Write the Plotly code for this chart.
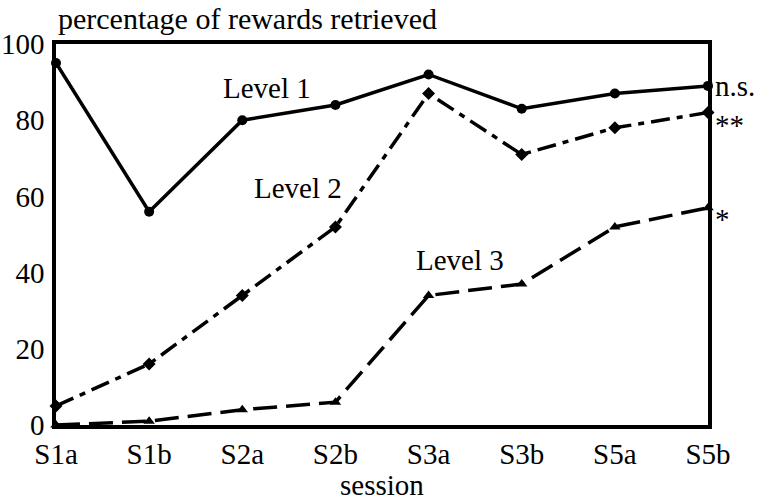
import plotly.graph_objects as go

sessions = ["S1a", "S1b", "S2a", "S2b", "S3a", "S3b", "S5a", "S5b"]
level1 = [95, 56, 80, 84, 92, 83, 87, 89]
level2 = [5, 16, 34, 52, 87, 71, 78, 82]
level3 = [0, 1, 4, 6, 34, 37, 52, 57]
y_ticks = [0, 20, 40, 60, 80, 100]
significance = ["n.s.", "**", "*"]

FONT = "Liberation Serif"
FS = 29

fig = go.Figure()
fig.add_trace(go.Scatter(x=sessions, y=level1, mode="lines+markers",
                         line=dict(color="black", width=3.5),
                         marker=dict(symbol="circle", size=10, color="black"),
                         cliponaxis=False, showlegend=False))
fig.add_trace(go.Scatter(x=sessions, y=level2, mode="lines+markers",
                         line=dict(color="black", width=3.5, dash="19px,7px,6px,7px"),
                         marker=dict(symbol="diamond", size=10, color="black"),
                         cliponaxis=False, showlegend=False))
fig.add_trace(go.Scatter(x=sessions, y=level3, mode="lines+markers",
                         line=dict(color="black", width=3.5, dash="24px,9px"),
                         marker=dict(symbol="triangle-up", size=10, color="black"),
                         cliponaxis=False, showlegend=False))

# level labels
for txt, xx, yy in [("Level 1", 2.27, 88.5), ("Level 2", 2.60, 62.2), ("Level 3", 4.34, 43.3)]:
    fig.add_annotation(x=xx, y=yy, text=txt, showarrow=False, xanchor="center", yanchor="middle",
                       font=dict(family=FONT, size=FS, color="black"))

# significance markers
for txt, yy in zip(significance, [level1[-1], level2[-1] - 3.3, level3[-1] - 3]):
    fig.add_annotation(x=7, y=yy, text=txt, showarrow=False, xanchor="left", yanchor="middle",
                       xshift=5, font=dict(family=FONT, size=FS, color="black"))

# y axis title (top-left)
fig.add_annotation(xref="paper", yref="paper", x=0, y=1.068, text="percentage of rewards retrieved",
                   showarrow=False, xanchor="left", yanchor="middle",
                   font=dict(family=FONT, size=30, color="black"))
# x axis title
fig.add_annotation(xref="paper", yref="paper", x=0.5, y=-0.158, text="session",
                   showarrow=False, xanchor="center", yanchor="middle",
                   font=dict(family=FONT, size=FS, color="black"))

fig.update_xaxes(type="category", categoryorder="array", categoryarray=sessions,
                 range=[0, 7], showgrid=False, zeroline=False, automargin=False,
                 showline=True, linecolor="black", linewidth=3.5, mirror=True,
                 ticks="",
                 tickfont=dict(family=FONT, size=FS, color="black"))
fig.update_yaxes(range=[0, 100], tickvals=y_ticks, showgrid=False, zeroline=False, automargin=False,
                 showline=True, linecolor="black", linewidth=3.5, mirror=True,
                 ticks="outside", ticklen=2, tickcolor="rgba(0,0,0,0)",
                 tickfont=dict(family=FONT, size=FS, color="black"))

fig.update_layout(width=761, height=504, margin=dict(l=56, r=53, t=44, b=79),
                  paper_bgcolor="white", plot_bgcolor="white",
                  font=dict(family=FONT, size=FS, color="black"))

fig.write_html("out.html", config={"displayModeBar": False},
               post_script="document.body.style.margin='0';document.body.style.overflow='hidden';")
